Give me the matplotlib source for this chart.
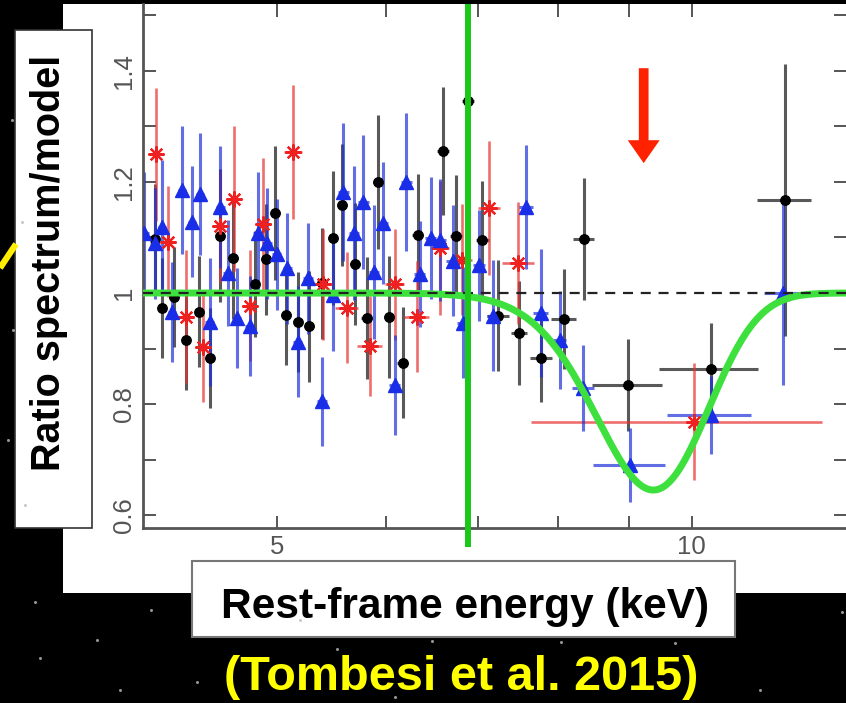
import matplotlib
matplotlib.use("Agg")
import matplotlib.pyplot as plt
import numpy as np
from matplotlib.patches import Rectangle
from matplotlib.ticker import FixedLocator, FixedFormatter, NullFormatter

# ---------------- data ----------------
# black circles
E_blk = [4.08, 4.13, 4.21, 4.30, 4.39, 4.47, 4.55, 4.65, 4.82, 4.91, 4.99, 5.08, 5.18, 5.28,
         5.39, 5.49, 5.58, 5.70, 5.81, 5.92, 6.03, 6.17, 6.33, 6.60, 6.75, 6.88, 7.05, 7.24,
         7.50, 7.78, 8.08, 8.35, 8.99, 10.32, 11.68]
R_blk = [1.097, 0.973, 0.993, 0.915, 0.966, 0.883, 1.103, 1.063, 1.016, 1.061, 1.144, 0.960,
         0.948, 0.940, 1.018, 1.099, 1.158, 1.052, 0.955, 1.200, 0.957, 0.874, 1.105, 1.256,
         1.103, 1.346, 1.095, 0.959, 0.928, 0.883, 0.953, 1.097, 0.834, 0.863, 1.168]
dR_blk = [0.10, 0.09, 0.09, 0.09, 0.10, 0.09, 0.12, 0.11, 0.095, 0.10, 0.12, 0.09, 0.09, 0.10,
          0.10, 0.12, 0.11, 0.11, 0.11, 0.12, 0.11, 0.10, 0.11, 0.115, 0.11, 0.15, 0.107, 0.10,
          0.093, 0.08, 0.09, 0.11, 0.083, 0.083, 0.245]
dE_blk = [0.03, 0.03, 0.03, 0.03, 0.03, 0.03, 0.03, 0.035, 0.035, 0.035, 0.04, 0.04, 0.04, 0.04,
          0.045, 0.045, 0.045, 0.05, 0.05, 0.05, 0.05, 0.055, 0.06, 0.065, 0.07, 0.07, 0.075,
          0.13, 0.10, 0.14, 0.17, 0.15, 0.53, 0.85, 0.53]

# blue triangles
E_blu = [4.01, 4.08, 4.13, 4.20, 4.27, 4.34, 4.40, 4.47, 4.55, 4.61, 4.68, 4.78, 4.85, 4.92,
         5.00, 5.09, 5.18, 5.27, 5.39, 5.49, 5.59, 5.69, 5.78, 5.88, 5.97, 6.09, 6.21, 6.35,
         6.47, 6.57, 6.71, 6.83, 7.01, 7.18, 7.58, 7.77, 8.02, 8.34, 9.02, 10.32, 11.64]
R_blu = [1.108, 1.090, 1.119, 0.966, 1.186, 1.128, 1.178, 0.948, 1.155, 1.036, 0.955, 0.940,
         1.108, 1.090, 1.070, 1.045, 0.912, 1.027, 0.805, 0.996, 1.182, 1.108, 1.164, 1.038,
         1.126, 0.834, 1.200, 1.034, 1.099, 1.095, 1.058, 0.946, 1.050, 0.959, 1.155, 0.964,
         0.915, 0.829, 0.690, 0.780, 1.000]
dR_blu = [0.11, 0.10, 0.12, 0.09, 0.115, 0.10, 0.11, 0.115, 0.11, 0.095, 0.09, 0.09, 0.11, 0.10,
          0.10, 0.10, 0.10, 0.10, 0.08, 0.10, 0.125, 0.12, 0.12, 0.12, 0.11, 0.09, 0.125, 0.095,
          0.11, 0.11, 0.10, 0.10, 0.10, 0.10, 0.112, 0.115, 0.088, 0.078, 0.066, 0.07, 0.165]
dE_blu = [0.03, 0.03, 0.03, 0.03, 0.03, 0.03, 0.03, 0.03, 0.035, 0.035, 0.035, 0.035, 0.04, 0.04,
          0.04, 0.04, 0.04, 0.045, 0.045, 0.045, 0.05, 0.05, 0.05, 0.05, 0.05, 0.055, 0.06, 0.06,
          0.06, 0.065, 0.07, 0.07, 0.07, 0.08, 0.09, 0.10, 0.09, 0.15, 0.54, 0.73, 0.35]

# red stars
E_red = [4.09, 4.17, 4.30, 4.42, 4.55, 4.66, 4.78, 4.89, 5.14, 5.40, 5.62, 5.84, 6.09, 6.32,
         6.57, 6.82, 7.13, 7.48, 10.04]
R_red = [1.250, 1.092, 0.957, 0.903, 1.120, 1.170, 0.977, 1.124, 1.254, 1.016, 0.973, 0.904,
         1.016, 0.957, 1.081, 1.060, 1.153, 1.054, 0.768]
dR_red = [0.12, 0.10, 0.12, 0.10, 0.10, 0.13, 0.10, 0.12, 0.12, 0.10, 0.10, 0.09, 0.10, 0.10,
          0.12, 0.10, 0.12, 0.11, 0.105]
dE_red = [0.04, 0.04, 0.05, 0.05, 0.05, 0.05, 0.06, 0.06, 0.08, 0.09, 0.11, 0.12, 0.10, 0.13,
          0.10, 0.11, 0.13, 0.20, 2.39]

# Gaussian absorption line model (keV)
line_energy = 9.38
line_sigma = 0.88
line_depth = 0.355
fe_k_energy = 6.88
arrow_energy = 9.23

x_ticks = [5, 10]
x_tick_labels = ["5", "10"]
x_minor = [6, 7, 8, 9]
y_ticks = [0.6, 0.8, 1.0, 1.2, 1.4]
y_tick_labels = ["0.6", "0.8", "1", "1.2", "1.4"]
y_minor = [0.7, 0.9, 1.1, 1.3, 1.5]

# ---------------- figure ----------------
W, H = 846, 703
fig = plt.figure(figsize=(W / 100, H / 100), dpi=100, facecolor="black")

# background layer in pixel coordinates
bg = fig.add_axes([0, 0, 1, 1])
bg.set_xlim(0, W)
bg.set_ylim(H, 0)
bg.axis("off")
bg.set_zorder(0)

star_x = [35, 97, 40, 151, 197, 337, 432, 395, 561, 675, 842, 12, 22, 13, 8, 25, 120, 760, 620, 300]
star_y = [602, 640, 658, 610, 682, 649, 641, 697, 642, 643, 612, 120, 222, 330, 440, 505, 690, 690, 680, 620]
bg.plot(star_x, star_y, "o", ms=2.2, color="#bbbbbb", mec="none", alpha=0.8)
bg.plot([0, 16], [268, 244], color="#ffee00", lw=4.5, solid_capstyle="butt")

bg.add_patch(Rectangle((63, 4), W - 63, 589, facecolor="white", edgecolor="none"))

bg.add_patch(Rectangle((15, 30), 77, 498, facecolor="white", edgecolor="#333333", lw=1.2))
bg.text(60, 263, "Ratio spectrum/model", rotation=90, rotation_mode="anchor",
        ha="center", va="baseline", fontsize=28.5, fontweight="bold",
        family="Liberation Sans", color="black")

bg.add_patch(Rectangle((192, 561), 543, 76, facecolor="white", edgecolor="#777777", lw=1.5))
bg.text(465, 618, "Rest-frame energy (keV)", ha="center", va="baseline",
        fontsize=30.5, fontweight="bold", family="Liberation Sans", color="black")
bg.text(461, 690, "(Tombesi et al. 2015)", ha="center", va="baseline",
        fontsize=35, fontweight="bold", family="Liberation Sans", color="#ffff00")

# ---------------- main axes ----------------
ax = fig.add_axes([143 / W, (H - 528) / H, (W - 143) / W, (528 - 4) / H])
ax.set_zorder(1)
ax.set_facecolor("white")
ax.set_xscale("log")
ax.set_xlim(4.0, 12.94)
ax.set_ylim(0.5766, 1.5207)

ax.xaxis.set_major_locator(FixedLocator(x_ticks))
ax.xaxis.set_major_formatter(FixedFormatter(x_tick_labels))
ax.xaxis.set_minor_locator(FixedLocator(x_minor))
ax.xaxis.set_minor_formatter(NullFormatter())
ax.yaxis.set_major_locator(FixedLocator(y_ticks))
ax.yaxis.set_major_formatter(FixedFormatter(y_tick_labels))
ax.yaxis.set_minor_locator(FixedLocator(y_minor))
ax.yaxis.set_minor_formatter(NullFormatter())

ax.tick_params(which="both", direction="in", length=9, width=1.4, color="#555555",
               top=True, right=True, labelsize=18.5, labelcolor="#555555")
ax.tick_params(axis="x", pad=5)
ax.tick_params(axis="y", pad=5, labelrotation=90)
for lab in ax.get_yticklabels():
    lab.set_va("center")
for lab in ax.get_xticklabels() + ax.get_yticklabels():
    lab.set_family("Liberation Sans")
for side, s in ax.spines.items():
    s.set_color("#555555")
    s.set_linewidth(2)
ax.spines["top"].set_visible(False)
ax.spines["right"].set_visible(False)

# data
ax.errorbar(E_blk, R_blk, yerr=dR_blk, xerr=dE_blk, fmt="none", ecolor="#222222",
            elinewidth=2.2, alpha=0.75, capsize=0, zorder=2)
ax.errorbar(E_red, R_red, yerr=dR_red, xerr=dE_red, fmt="none", ecolor="#e83030",
            elinewidth=1.9, alpha=0.7, capsize=0, zorder=2.1)
ax.errorbar(E_blu, R_blu, yerr=dR_blu, xerr=dE_blu, fmt="none", ecolor="#1f30d8",
            elinewidth=2.2, alpha=0.7, capsize=0, zorder=2.2)
ax.plot(E_blk, R_blk, "o", ms=6.8, color="black", mec="black", zorder=3)
ax.plot(E_red, R_red, ls="none", marker=(8, 2, 0), ms=11.5, mew=1.6, color="#ee2020", zorder=3.1)
ax.plot(E_blu, R_blu, "^", ms=10.5, color="#1a2ee8", mec="#1a2ee8", zorder=3.2)

# absorption line model
E_model = np.geomspace(4.0, 12.94, 500)
R_model = 1 - line_depth * np.exp(-0.5 * ((E_model - line_energy) / line_sigma) ** 2)
ax.plot(E_model, R_model, color="#3ee03e", lw=5, solid_capstyle="round", zorder=4)

ax.axhline(1.0, color="#222222", lw=1.6, ls=(0, (4.5, 3.5)), zorder=4.5)

# rest-frame Fe K marker
ax.vlines(fe_k_energy, 0.5423, 1.5207, color="#19c819", lw=4.3, clip_on=False, zorder=5)

# arrow marking the absorption trough
ax.annotate("", xy=(arrow_energy, 1.234), xytext=(arrow_energy, 1.405),
            arrowprops=dict(width=7, headwidth=23, headlength=16.5, shrink=0,
                            color="#ff2200", lw=0), zorder=6)

fig.savefig("out.png", dpi=100, facecolor="black")
